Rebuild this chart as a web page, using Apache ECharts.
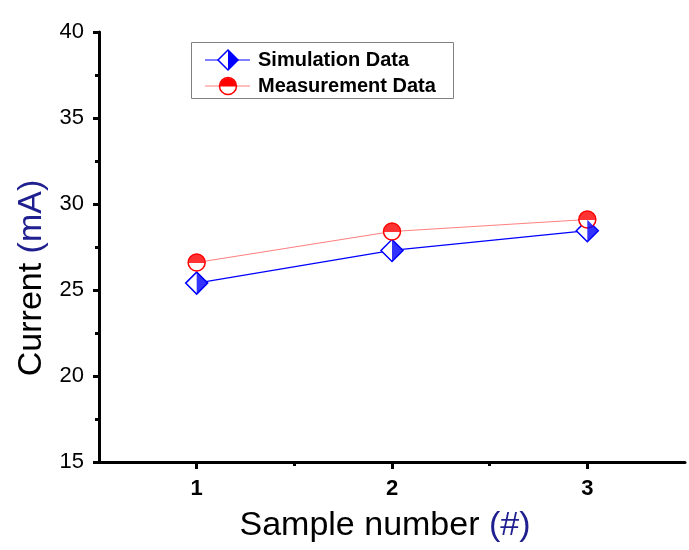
<!DOCTYPE html>
<html>
<head>
<meta charset="utf-8">
<script src="https://cdn.jsdelivr.net/npm/echarts@6/dist/echarts.min.js"></script>
<style>html,body{margin:0;padding:0;background:#fff}#c{width:689px;height:550px}</style>
</head>
<body>
<div id="c"></div>
<script>
var samples = [1, 2, 3];
var simulation = [25.4, 27.3, 28.45];
var measurement = [26.6, 28.4, 29.1];
var xTickLabels = [1, 2, 3];
var xMinorTicks = [1.5, 2.5];
var seriesNames = ['Simulation Data', 'Measurement Data'];

var FONT = 'Liberation Sans, Arial, sans-serif';
var BLUE = '#0000ff', RED = '#ff0000', LRED = '#ff8080', NAVY = '#1f1f8f';

function pairs(vals){ return samples.map(function(s,i){ return [s, vals[i]]; }); }

// legend drawn as graphic elements
var LB = {x:191, y:42, w:262, h:56};
var row1 = 60, row2 = 86, lx0 = 205, lx1 = 250, ix = 228, tx = 258;

var chart = echarts.init(document.getElementById('c'), null, {renderer:'canvas'});
chart.setOption({
  backgroundColor:'#fff',
  animation:false,
  grid:{left:99, right:4, top:32, bottom:88, containLabel:false},
  xAxis:[{
    type:'value', min:0.5, max:3.5, interval:0.5,
    name:'Sample number {b|(#)}', nameLocation:'middle', nameGap:47,
    nameTextStyle:{fontFamily:FONT, fontSize:34, color:'#000', padding:[0,14,0,0], rich:{b:{fontFamily:FONT, fontSize:34, color:NAVY}}},
    axisLine:{show:true, onZero:false, lineStyle:{color:'#000', width:3}},
    axisTick:{show:true, inside:false, length:7, customValues:xTickLabels, lineStyle:{color:'#000', width:3}},
    axisLabel:{show:true, margin:16, customValues:xTickLabels, fontFamily:FONT, fontSize:22, fontWeight:'bold', color:'#000'},
    splitLine:{show:false}
  },{
    type:'value', min:0.5, max:3.5, interval:0.5, position:'bottom',
    axisLine:{show:false},
    axisTick:{show:true, inside:false, length:4, customValues:xMinorTicks, lineStyle:{color:'#000', width:3}},
    axisLabel:{show:false}, splitLine:{show:false}
  }],
  yAxis:{
    type:'value', min:15, max:40, interval:5,
    name:'Current {b|(mA)}', nameLocation:'middle', nameGap:46, nameRotate:90,
    nameTextStyle:{fontFamily:FONT, fontSize:34, color:'#000', padding:[0,62,0,0], rich:{b:{fontFamily:FONT, fontSize:34, color:NAVY}}},
    axisLine:{show:true, lineStyle:{color:'#000', width:3}},
    axisTick:{show:true, inside:false, length:6, lineStyle:{color:'#000', width:3}},
    minorTick:{show:true, splitNumber:2, length:4, lineStyle:{color:'#000', width:3}},
    axisLabel:{margin:15, fontFamily:FONT, fontSize:22, color:'#000'},
    splitLine:{show:false}
  },
  series:[{
    name:seriesNames[0], type:'line', data:pairs(simulation),
    symbol:'diamond', symbolSize:22, showAllSymbol:true, z:3,
    itemStyle:{color:'#fff', borderColor:BLUE, borderWidth:1.5},
    lineStyle:{color:BLUE, width:1.2}
  },{
    name:'simHalf', type:'scatter', data:pairs(simulation),
    symbol:'path://M0,0 L1,1 L0,2 Z', symbolSize:[11,22], symbolOffset:[5.5,0],
    itemStyle:{color:BLUE}, z:4, silent:true
  },{
    name:seriesNames[1], type:'line', data:pairs(measurement),
    symbol:'circle', symbolSize:17, showAllSymbol:true, z:3,
    itemStyle:{color:'#fff', borderColor:RED, borderWidth:1.5},
    lineStyle:{color:LRED, width:1.2}
  },{
    name:'measHalf', type:'scatter', data:pairs(measurement),
    symbol:'path://M0,10 A10,10 0 0 1 20,10 Z', symbolSize:[17,9], symbolOffset:[0,-4],
    itemStyle:{color:RED}, z:4, silent:true
  }],
  graphic:[
    {type:'rect', z:100, shape:{x:LB.x+0.5, y:LB.y+0.5, width:LB.w, height:LB.h}, style:{fill:'#fff', stroke:'#808080', lineWidth:1}},
    {type:'line', z:101, shape:{x1:lx0, y1:row1, x2:lx1, y2:row1}, style:{stroke:BLUE, lineWidth:1.2}},
    {type:'polygon', z:102, shape:{points:[[ix, row1-10],[ix+10, row1],[ix, row1+10],[ix-10, row1]]}, style:{fill:'#fff', stroke:BLUE, lineWidth:1.5}},
    {type:'polygon', z:103, shape:{points:[[ix, row1-10],[ix+10, row1],[ix, row1+10]]}, style:{fill:BLUE}},
    {type:'text', z:102, x:tx, y:row1, style:{text:seriesNames[0], font:'bold 20px ' + FONT, fill:'#000', verticalAlign:'middle', align:'left'}},
    {type:'line', z:101, shape:{x1:lx0, y1:row2, x2:lx1, y2:row2}, style:{stroke:LRED, lineWidth:1.2}},
    {type:'circle', z:102, shape:{cx:ix, cy:row2, r:8.5}, style:{fill:'#fff', stroke:RED, lineWidth:1.5}},
    {type:'sector', z:103, shape:{cx:ix, cy:row2+0.5, r:8.5, r0:0, startAngle:Math.PI, endAngle:Math.PI*2}, style:{fill:RED}},
    {type:'text', z:102, x:tx, y:row2, style:{text:seriesNames[1], font:'bold 20px ' + FONT, fill:'#000', verticalAlign:'middle', align:'left'}}
  ]
});
</script>
</body>
</html>
